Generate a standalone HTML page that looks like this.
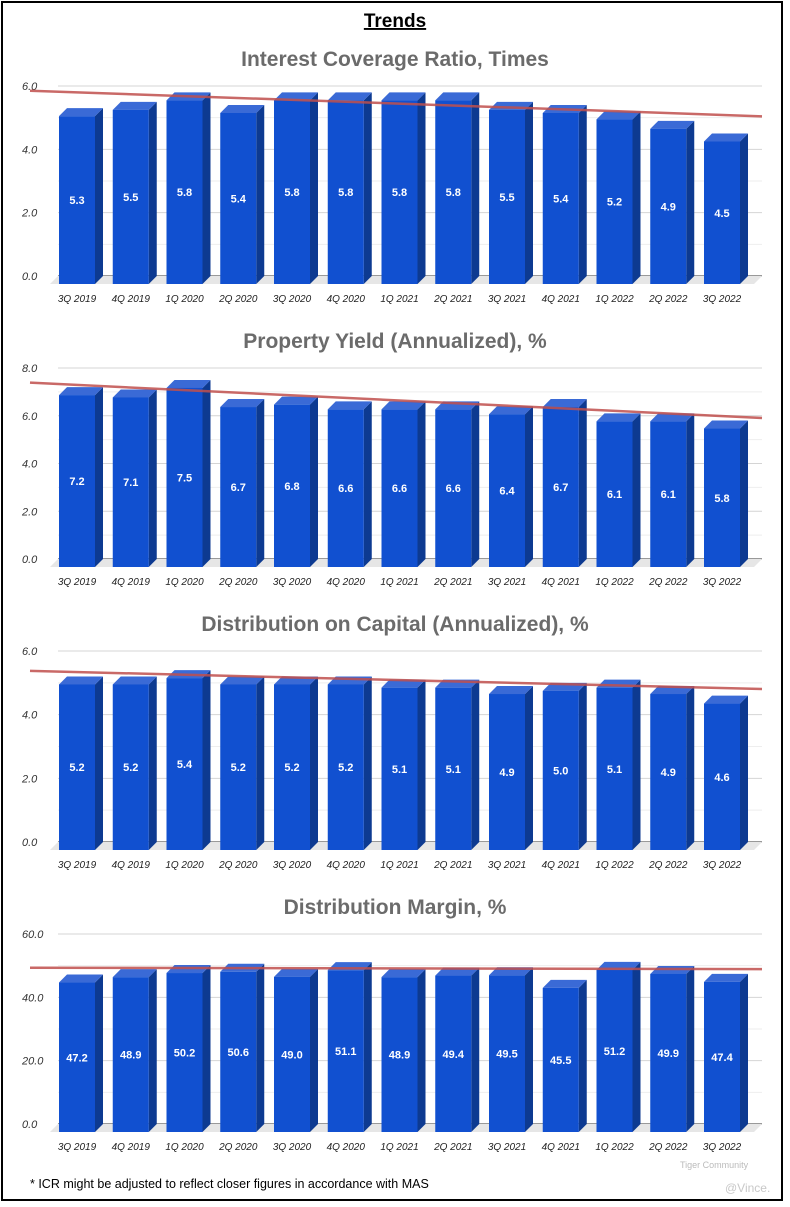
<!DOCTYPE html>
<html><head><meta charset="utf-8">
<style>
html,body{margin:0;padding:0;background:#fff;}
body{width:790px;height:1207px;position:relative;overflow:hidden;font-family:"Liberation Sans",sans-serif;}
#frame{position:absolute;left:1px;top:1px;width:782px;height:1200px;border:2px solid #000;box-sizing:border-box;}
</style></head><body>
<div id="frame"></div>
<svg id="svg" width="790" height="1207" style="position:absolute;left:0;top:0">
<text x="395" y="27" text-anchor="middle" font-size="19" font-weight="bold" text-decoration="underline" fill="#000">Trends</text>
<text x="30" y="1188" font-size="12.5" fill="#000">* ICR might be adjusted to reflect closer figures in accordance with MAS</text>
<text x="680" y="1168" font-size="9" fill="#bbb">Tiger Community</text>
<text x="725" y="1192" font-size="12" fill="#c8c8c8">@Vince.</text>
</svg>
<script>
const categories=["3Q 2019","4Q 2019","1Q 2020","2Q 2020","3Q 2020","4Q 2020","1Q 2021","2Q 2021","3Q 2021","4Q 2021","1Q 2022","2Q 2022","3Q 2022"];
const icrValues=[5.3,5.5,5.8,5.4,5.8,5.8,5.8,5.8,5.5,5.4,5.2,4.9,4.5];
const yieldValues=[7.2,7.1,7.5,6.7,6.8,6.6,6.6,6.6,6.4,6.7,6.1,6.1,5.8];
const docValues=[5.2,5.2,5.4,5.2,5.2,5.2,5.1,5.1,4.9,5.0,5.1,4.9,4.6];
const marginValues=[47.2,48.9,50.2,50.6,49.0,51.1,48.9,49.4,49.5,45.5,51.2,49.9,47.4];
const icrTicks=[0,2,4,6];
const yieldTicks=[0,2,4,6,8];
const docTicks=[0,2,4,6];
const marginTicks=[0,20,40,60];
const titles=["Interest Coverage Ratio, Times","Property Yield (Annualized), %","Distribution on Capital (Annualized), %","Distribution Margin, %"];

const svg=document.getElementById('svg');
const NS="http://www.w3.org/2000/svg";
function mk(tag,attrs,parent){const e=document.createElementNS(NS,tag);for(const k in attrs)e.setAttribute(k,attrs[k]);(parent||svg).appendChild(e);return e;}

function chart(idx,values,ticks,titleY,topY,zeroY,slug){
  const g=mk('g',{});
  
  
  const max=ticks[ticks.length-1];
  const yS=v=>zeroY-(v/max)*(zeroY-topY);
  const x0=59,pitch=53.75,bw=36,d=8;
  const t=mk('text',{x:395,y:titleY,'text-anchor':'middle','font-size':21,'font-weight':'bold',fill:'#6b6b6b'},g);
  t.textContent=titles[idx];
  
  
  const step=ticks[1]-ticks[0];
  for(let v=step/2;v<max;v+=step){
    const l=mk('line',{x1:58,x2:762,y1:yS(v),y2:yS(v),stroke:'#eeeeee','stroke-width':1},g);
    
    
  }
  ticks.forEach(v=>{
    const l=mk('line',{x1:58,x2:762,y1:yS(v),y2:yS(v),stroke:v===0?'#333':'#d4d4d4','stroke-width':1},g);
    
    
    const tx=mk('text',{x:22,y:yS(v)+4,'font-size':11,'font-style':'italic',fill:'#333'},g);
    tx.textContent=v.toFixed(1);
    
    
  });
  const f=mk('polygon',{points:`${58},${zeroY} ${762},${zeroY} ${754},${zeroY+d} ${50},${zeroY+d}`,fill:'#e6e6e6'},g);
  
  
  values.forEach((v,i)=>{
    const fx=x0+i*pitch, bt=yS(v)+d, bb=zeroY+d;
    const side=mk('polygon',{points:`${fx+bw},${bt} ${fx+bw+d},${bt-d} ${fx+bw+d},${bb-d} ${fx+bw},${bb}`,fill:'#0d3a91'},g);
    
    
    const top=mk('polygon',{points:`${fx},${bt} ${fx+d},${bt-d} ${fx+bw+d},${bt-d} ${fx+bw},${bt}`,fill:'#3a6ad6'},g);
    
    
    const r=mk('rect',{x:fx,y:bt,width:bw,height:bb-bt,fill:'#1150d0'},g);
    
    
    const lb=mk('text',{x:fx+bw/2,y:(bt+bb)/2+4,'text-anchor':'middle','font-size':11,'font-weight':'bold',fill:'#fff'},g);
    lb.textContent=v.toFixed(1);
    
    
    const xl=mk('text',{x:fx+bw/2,y:zeroY+26,'text-anchor':'middle','font-size':10,'font-style':'italic',fill:'#222'},g);
    xl.textContent=categories[i];
    
    
  });
  const n=values.length;let sx=0,sy=0,sxy=0,sxx=0;
  values.forEach((v,i)=>{sx+=i;sy+=v;sxy+=i*v;sxx+=i*i;});
  const m=(n*sxy-sx*sy)/(n*sxx-sx*sx), b=(sy-m*sx)/n;
  const ix=x=>(x-(x0+bw/2+d/2))/pitch;
  const tl=mk('line',{x1:30,y1:yS(b+m*ix(30)),x2:762,y2:yS(b+m*ix(762)),stroke:'#c0504d','stroke-width':2.5,opacity:0.85},g);
  
  
}
chart(0,icrValues,icrTicks,66,86,276,'interest-coverage');
chart(1,yieldValues,yieldTicks,348,368,559,'property-yield');
chart(2,docValues,docTicks,631,651,842,'distribution-on-capital');
chart(3,marginValues,marginTicks,914,934,1124,'distribution-margin');
</script>
</body></html>
